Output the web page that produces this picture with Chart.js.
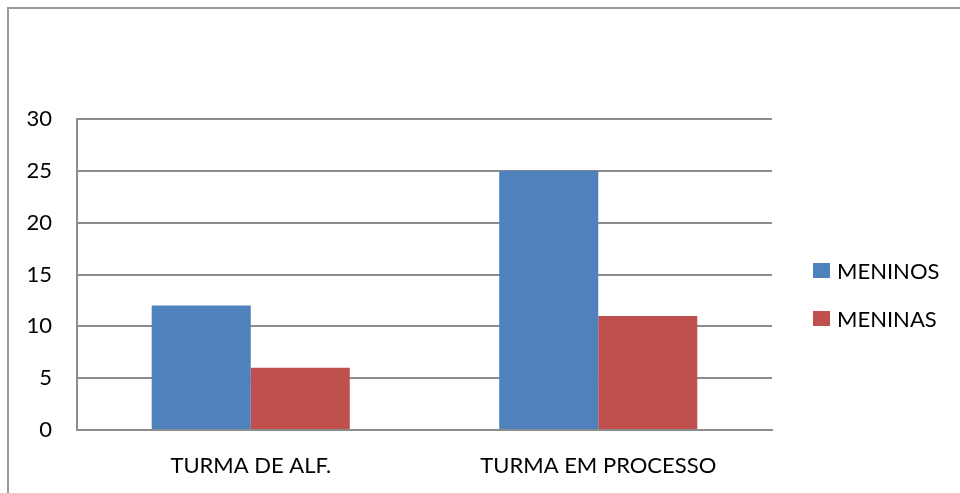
<!DOCTYPE html>
<html>
<head>
<meta charset="utf-8">
<script src="https://cdn.jsdelivr.net/npm/chart.js@4"></script>
<style>
    html, body { margin: 0; padding: 0; background: #ffffff; }
    #wrap { position: relative; width: 960px; height: 493px; overflow: hidden; }
    #frame {
        position: absolute; left: 7px; top: 7px; width: 1000px; height: 600px;
        border-left: 2px solid #9a9a9a; border-top: 2px solid #9a9a9a;
    }
    #chart { position: absolute; left: 0; top: 0; }
    #legend {
        position: absolute; left: 813px; top: 256px;
        font-family: Lato, 'Liberation Sans', sans-serif; font-size: 22px; color: #000;
    }
    .legend-item { display: flex; align-items: center; height: 28px; margin-bottom: 20px; }
    .legend-box { width: 17px; height: 15px; margin-right: 7px; }
</style>
</head>
<body>
<div id="wrap">
    <div id="frame"></div>
    <canvas id="chart" width="960" height="493"></canvas>
    <div id="legend"></div>
</div>
<script>
const categories = ['TURMA DE ALF.', 'TURMA EM PROCESSO'];
const seriesNames = ['MENINOS', 'MENINAS'];
const meninos = [12, 25];
const meninas = [6, 11];
const yTicks = [0, 5, 10, 15, 20, 25, 30];

const seriesColors = ['#4F81BD', '#C0504D'];
const gridColor = '#8c8c8c';
const font = { family: "Lato, 'Liberation Sans', sans-serif", size: 22 };

const datasets = [meninos, meninas].map((values, i) => ({
    label: seriesNames[i],
    data: values,
    backgroundColor: seriesColors[i],
    borderWidth: 0,
}));

// legend on the right, built from the datasets
const legend = document.getElementById('legend');
datasets.forEach(ds => {
    const item = document.createElement('div');
    item.className = 'legend-item';
    const box = document.createElement('span');
    box.className = 'legend-box';
    box.style.background = ds.backgroundColor;
    const label = document.createElement('span');
    label.textContent = ds.label;
    item.append(box, label);
    legend.appendChild(item);
});

const context = document.getElementById('chart').getContext('2d');
new Chart(context, {
    type: 'bar',
    data: {
        labels: categories,
        datasets: datasets,
    },
    options: {
        responsive: false,
        animation: false,
        layout: {
            padding: { top: 119, right: 188, left: 0, bottom: 0 }
        },
        datasets: {
            bar: { categoryPercentage: 0.57, barPercentage: 1 }
        },
        scales: {
            x: {
                grid: { display: false, drawTicks: false },
                border: { display: true, color: gridColor, width: 2 },
                ticks: { color: '#000000', font: font, padding: 23 },
                afterFit: scale => { scale.height = 63; }
            },
            y: {
                min: 0,
                max: yTicks[yTicks.length - 1],
                afterBuildTicks: scale => { scale.ticks = yTicks.map(v => ({ value: v })); },
                grid: { color: gridColor, lineWidth: 2, drawTicks: false },
                border: { display: true, color: gridColor, width: 2 },
                ticks: { color: '#000000', font: font, padding: 25 },
                afterFit: scale => { scale.width = 77; }
            }
        },
        plugins: {
            legend: { display: false },
            tooltip: { enabled: false }
        }
    }
});
</script>
</body>
</html>
